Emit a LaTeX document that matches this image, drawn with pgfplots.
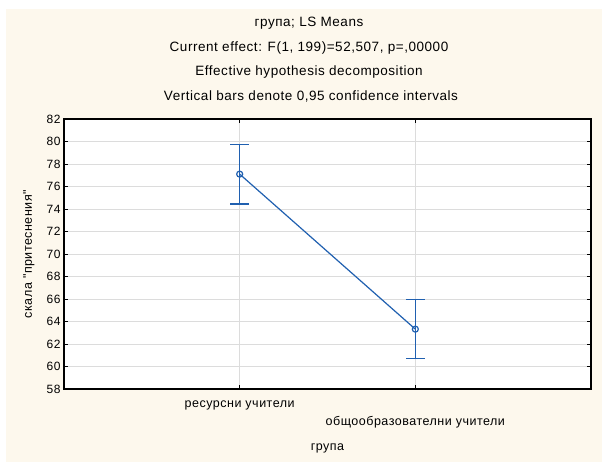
\documentclass[border=0pt]{standalone}
\usepackage{fontspec}
\setmainfont{Liberation Sans}
\newfontfamily\wide[LetterSpace=4]{Liberation Sans}
\usepackage{pgfplots}
\pgfplotsset{compat=1.18}
\definecolor{bgcream}{HTML}{FDF8ED}
\definecolor{lineblue}{HTML}{2060B0}
\definecolor{gridgray}{HTML}{DCDCDC}
\begin{document}
\begin{tikzpicture}[x=1pt,y=1pt]
\useasboundingbox (0,0) rectangle (602,462);
\fill[bgcream] (6,0) rectangle (602,453);
\node[font=\wide\fontsize{13.5}{15}\selectfont] at (309,439) {група; LS Means};
\node[font=\wide\fontsize{13.5}{15}\selectfont] at (309,414) {Current effect: F(1, 199)=52,507, p=,00000};
\node[font=\wide\fontsize{13.5}{15}\selectfont] at (309,390) {Effective hypothesis decomposition};
\node[font=\wide\fontsize{13.5}{15}\selectfont] at (311,366) {Vertical bars denote 0,95 confidence intervals};
\begin{axis}[
  scale only axis,
  width=527pt, height=270pt,
  at={(64pt,73pt)}, anchor=south west,
  xmin=0, xmax=3, ymin=58, ymax=82,
  xtick={1,2}, xticklabels={},
  ytick={58,60,...,82},
  /pgf/number format/assume math mode=true,
  yticklabel style={font=\wide\fontsize{12}{14}\selectfont},
  ylabel={скала "притеснения"},
  ylabel style={font=\wide\fontsize{12.5}{14}\selectfont, at={(axis description cs:0,0.5)}, anchor=south, yshift=26pt},
  grid=major,
  major grid style={gridgray, line width=0.8pt},
  axis line style={black, line width=1.2pt},
  tick style={black, line width=0.8pt},
  major tick length=4pt,
  tick align=inside,
  axis background/.style={fill=white},
  clip=false,
]
\addplot[lineblue, line width=1.2pt, mark=o, mark size=3pt, mark options={line width=1.2pt},
  error bars/.cd, y dir=both, y explicit,
  error bar style={line width=1.4pt, draw=lineblue},
  error mark options={rotate=90, mark size=9.5pt, line width=1.6pt, draw=lineblue}]
coordinates {
  (1,77.10) +- (0,2.65)
  (2,63.32) +- (0,2.62)
};
\node[font=\wide\fontsize{12.5}{14}\selectfont] at (axis cs:1,58) [yshift=-16pt] {ресурсни учители};
\node[font=\wide\fontsize{12.5}{14}\selectfont] at (axis cs:2,58) [yshift=-33pt] {общообразователни учители};
\node[font=\wide\fontsize{12.5}{14}\selectfont] at (axis cs:1.5,58) [yshift=-59pt] {група};
\end{axis}
\end{tikzpicture}
\end{document}
